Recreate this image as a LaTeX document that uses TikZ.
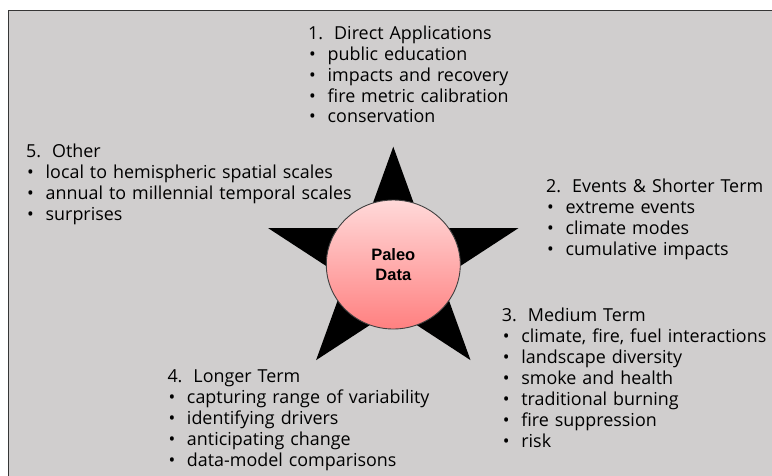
\documentclass[tikz,border=0pt]{standalone}
\usepackage{fontspec}
\setmainfont{Open Sans}
\newfontfamily\corefont{Liberation Sans}
\usepackage{tikz}
\usetikzlibrary{shapes.geometric}
\definecolor{panel}{HTML}{D0CECE}
\definecolor{framegray}{HTML}{363636}
\definecolor{pinktop}{HTML}{FFD9D9}
\definecolor{pinkbottom}{HTML}{FF8080}
\newcommand{\hd}[1]{\makebox[26pt][l]{#1}}
\newcommand{\bl}{\makebox[19.5pt][l]{\hspace{1pt}\textbullet}}

\begin{document}
\begin{tikzpicture}[x=1pt, y=-1pt,
    block/.style={anchor=base west, inner sep=0pt, text width=400pt, align=left,
                  font=\fontsize{17.9}{20.9}\selectfont},
    core/.style={ellipse, draw=black!75, line width=0.9pt, top color=pinktop,
                 bottom color=pinkbottom, minimum width=134pt, minimum height=129pt,
                 inner sep=0pt, align=center,
                 font=\corefont\bfseries\fontsize{16.5}{20}\selectfont},
]
\useasboundingbox (0,0) rectangle (772,475);

% grey panel, runs off the right and bottom edge
\draw[fill=panel, draw=framegray, line width=1.4pt] (8.3,10.5) rectangle (790,495);

% five pointed star behind the data circle
\foreach \k in {0,...,9}{
  \pgfmathsetmacro\rad{mod(\k,2)==0 ? 1 : 0.382}
  \coordinate (s\k) at ({393.3+131.4*\rad*cos(-90+36*\k)}, {264.7+118*\rad*sin(-90+36*\k)});
}
\fill[black] (s0) \foreach \k in {1,...,9}{-- (s\k)} -- cycle;

\node[core] (paleo) at (393.3,264.5) {Paleo\\Data};

% the five groups of uses
\node[block] (direct) at (308,39.3) {\hd{1.}Direct Applications\\
  \bl public education\\ \bl impacts and recovery\\
  \bl fire metric calibration\\ \bl conservation};

\node[block] (events) at (546,192.3) {\hd{2.}Events \& Shorter Term\\
  \bl extreme events\\ \bl climate modes\\ \bl cumulative impacts};

\node[block] (medium) at (501.7,321.7) {\hd{3.}Medium Term\\
  \bl climate, fire, fuel interactions\\ \bl landscape diversity\\
  \bl smoke and health\\ \bl traditional burning\\
  \bl fire suppression\\ \bl risk};

\node[block] (longer) at (167.3,382.7) {\hd{4.}Longer Term\\
  \bl capturing range of variability\\ \bl identifying drivers\\
  \bl anticipating change\\ \bl data-model comparisons};

\node[block] (other) at (26,157.7) {\hd{5.}Other\\
  \bl local to hemispheric spatial scales\\
  \bl annual to millennial temporal scales\\ \bl surprises};

\end{tikzpicture}
\end{document}
